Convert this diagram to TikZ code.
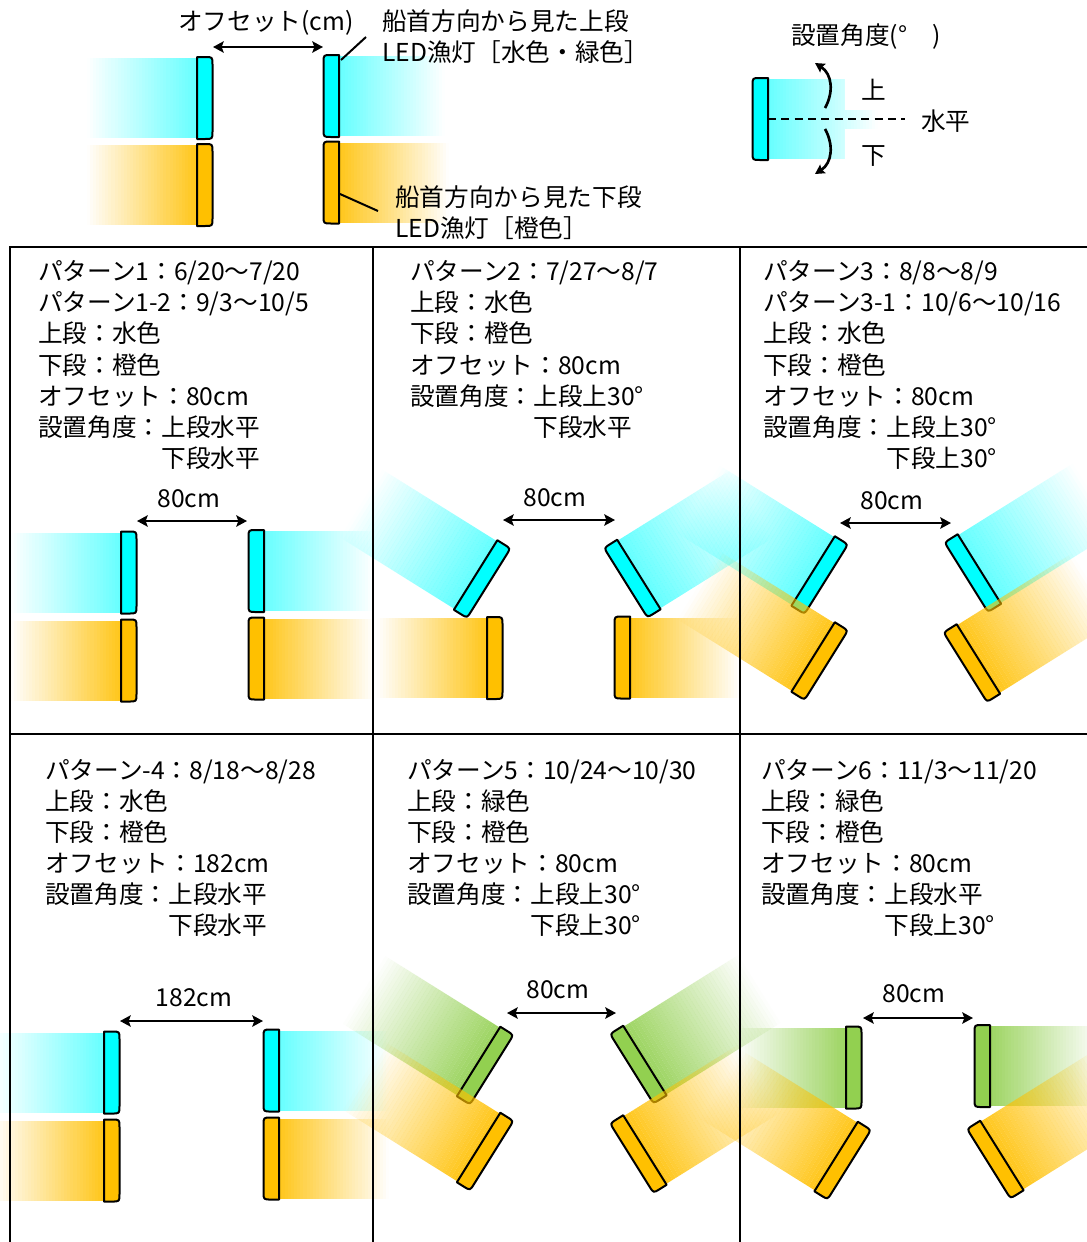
\documentclass[tikz,border=0pt]{standalone}
\usepackage{fontspec}
\setmainfont{Noto Sans CJK JP}
\usetikzlibrary{arrows.meta}

\definecolor{lampcyan}{HTML}{00FFFF}
\definecolor{lamporange}{HTML}{FFC000}
\definecolor{lampgreen}{HTML}{92D050}

\tikzset{
  txt/.style={anchor=base west, inner sep=0pt, font=\fontsize{18.5pt}{22pt}\selectfont},
  dimtxt/.style={anchor=base, inner sep=0pt, font=\fontsize{18.5pt}{22pt}\selectfont},
  lampedge/.style={line width=1.5pt, line join=round},
  dimarrow/.style={line width=2pt,
    {Stealth[length=8pt,width=8.5pt,inset=1.5pt]}-{Stealth[length=8pt,width=8.5pt,inset=1.5pt]}},
  frame/.style={line width=2.2pt},
  leader/.style={line width=1.5pt},
  tiltarrow/.style={line width=2pt, -{Stealth[length=7pt,width=7.5pt,inset=1pt]}},
  levelline/.style={line width=1.5pt, dash pattern=on 6pt off 4pt},
}

% Lamp with its light beam.
% #1,#2 centre of the emitting face, #3 rotation, #4 1 = beam to the left, -1 = to the right,
% #5 colour, #6 opacity of the beam at the face, #7 beam length
\newcommand\lamp[7]{%
  \begin{scope}[shift={(#1,#2)}, rotate=#3, xscale=#4]
    \foreach \k in {0,...,35}{%
      \pgfmathsetmacro\beamop{#6*(1-(\k+0.5)/36)}%
      \fill[#5, opacity=\beamop] ({-#7*\k/36},-40) rectangle ({-#7*(\k+1)/36},40);
    }
    \draw[lampedge, fill=#5] (0,-41) -- (8,-41) .. controls (15.5,-41) .. (15.5,-33.5)
      -- (15.5,33.5) .. controls (15.5,41) .. (8,41) -- (0,41) -- cycle;
  \end{scope}}

% One block of panel text, one node per line
\newcommand\paneltext[5]{%
  \foreach \t [count=\i] in {#5} {%
    \node[txt] (#1-\i) at ({#2},{#3+#4*(\i-1)}) {\t};
  }}

\newcommand\cyanop{0.6}
\newcommand\orangeop{0.9}
\newcommand\greenop{0.9}

\begin{document}
\begin{tikzpicture}[x=0.75pt,y=-0.75pt]
\useasboundingbox (0,0) rectangle (1087,1242);
\clip (0,0) rectangle (1087,1242);
\fill[white] (0,0) rectangle (1087,1242);

% ---------- key: offset ----------
\lamp{197}{98}{0}{1}{lampcyan}{\cyanop}{110}
\lamp{339}{96}{0}{-1}{lampcyan}{\cyanop}{106}
\lamp{197}{185}{0}{1}{lamporange}{\orangeop}{110}
\lamp{339}{182.5}{0}{-1}{lamporange}{\orangeop}{110}

\node[txt] (offkey) at (178,31) {オフセット(cm)};
\coordinate (offL) at (213,47);
\coordinate (offR) at (323,47);
\draw[dimarrow] (offL) -- (offR);

\node[txt] (upkey1) at (382,31) {船首方向から見た上段};
\node[txt] (upkey2) at (382,61) {LED漁灯［水色・緑色］};
\node[txt] (lowkey1) at (395,206) {船首方向から見た下段};
\node[txt] (lowkey2) at (395,237) {LED漁灯［橙色］};
\coordinate (ldA) at (341,60);
\coordinate (ldB) at (366,37);
\coordinate (ldC) at (340,194);
\coordinate (ldD) at (378,211);
\draw[leader] (ldA) -- (ldB);
\draw[leader] (ldC) -- (ldD);

% ---------- key: installation angle ----------
\lamp{768}{119}{0}{-1}{lampcyan}{\cyanop}{110}
\fill[white] (845,76) rectangle (900,110);
\fill[white] (845,129) rectangle (900,163);
\coordinate (lvA) at (768,119);
\coordinate (lvB) at (905,119);
\draw[levelline] (lvA) -- (lvB);
\coordinate (upS) at (825,108);
\coordinate (upE) at (815,63);
\coordinate (dnS) at (825,129);
\coordinate (dnE) at (815,174);
\draw[tiltarrow] (upS) .. controls (834,92) and (832,74) .. (upE);
\draw[tiltarrow] (dnS) .. controls (834,145) and (832,163) .. (dnE);
\node[txt] (angkey) at (791,44) {設置角度(°　)};
\node[txt] (angup) at (861,99) {上};
\node[txt] (angdn) at (861,164) {下};
\node[txt] (anglevel) at (921,130) {水平};

% ---------- pattern 1 ----------
\lamp{121}{572.5}{0}{1}{lampcyan}{\cyanop}{110}
\lamp{264}{571}{0}{-1}{lampcyan}{\cyanop}{110}
\lamp{121}{660.5}{0}{1}{lamporange}{\orangeop}{110}
\lamp{264}{658.5}{0}{-1}{lamporange}{\orangeop}{110}

% ---------- pattern 2 ----------
\lamp{475.6}{575}{-32}{1}{lampcyan}{\cyanop}{135}
\lamp{638.9}{574.5}{32}{-1}{lampcyan}{\cyanop}{135}
\lamp{487}{658}{0}{1}{lamporange}{\orangeop}{110}
\lamp{630}{657.5}{0}{-1}{lamporange}{\orangeop}{110}

% ---------- pattern 3 ----------
\lamp{813.1}{571}{-32}{1}{lampcyan}{\cyanop}{135}
\lamp{979.4}{569}{32}{-1}{lampcyan}{\cyanop}{135}
\lamp{813.1}{657}{-32}{1}{lamporange}{\orangeop}{135}
\lamp{978.4}{659}{32}{-1}{lamporange}{\orangeop}{135}

% ---------- pattern 4 ----------
\lamp{104}{1072.5}{0}{1}{lampcyan}{\cyanop}{110}
\lamp{279}{1070.5}{0}{-1}{lampcyan}{\cyanop}{110}
\lamp{104}{1160.5}{0}{1}{lamporange}{\orangeop}{110}
\lamp{279}{1158.5}{0}{-1}{lamporange}{\orangeop}{110}

% ---------- pattern 5 ----------
\lamp{478.6}{1061.5}{-32}{1}{lampgreen}{\greenop}{135}
\lamp{644.9}{1060.5}{32}{-1}{lampgreen}{\greenop}{135}
\lamp{478.6}{1147.5}{-32}{1}{lamporange}{\orangeop}{135}
\lamp{644.9}{1150}{32}{-1}{lamporange}{\orangeop}{135}

% ---------- pattern 6 ----------
\lamp{846}{1067.5}{0}{1}{lampgreen}{\greenop}{110}
\lamp{990}{1066}{0}{-1}{lampgreen}{\greenop}{110}
\lamp{836.1}{1156.5}{-32}{1}{lamporange}{\orangeop}{135}
\lamp{1001.9}{1155.5}{32}{-1}{lamporange}{\orangeop}{135}

% ---------- table frame ----------
\draw[frame] (10,1242) -- (10,247) -- (1087,247);
\draw[frame] (10,734) -- (1087,734);
\draw[frame] (373,247) -- (373,1242);
\draw[frame] (740,247) -- (740,1242);

% ---------- panel texts ----------
\paneltext{pa}{38}{280.5}{31.2}{{パターン1：6/20～7/20},{パターン1-2：9/3～10/5},{上段：水色},{下段：橙色},{オフセット：80cm},{設置角度：上段水平},{\phantom{設置角度：}下段水平}}
\paneltext{pb}{410}{280.5}{31.2}{{パターン2：7/27～8/7},{上段：水色},{下段：橙色},{オフセット：80cm},{設置角度：上段上30°},{\phantom{設置角度：}下段水平}}
\paneltext{pc}{763}{280.5}{31.2}{{パターン3：8/8～8/9},{パターン3-1：10/6～10/16},{上段：水色},{下段：橙色},{オフセット：80cm},{設置角度：上段上30°},{\phantom{設置角度：}下段上30°}}
\paneltext{pd}{45}{779.5}{31}{{パターン-4：8/18～8/28},{上段：水色},{下段：橙色},{オフセット：182cm},{設置角度：上段水平},{\phantom{設置角度：}下段水平}}
\paneltext{pe}{407}{779.5}{31}{{パターン5：10/24～10/30},{上段：緑色},{下段：橙色},{オフセット：80cm},{設置角度：上段上30°},{\phantom{設置角度：}下段上30°}}
\paneltext{pf}{761}{779.5}{31}{{パターン6：11/3～11/20},{上段：緑色},{下段：橙色},{オフセット：80cm},{設置角度：上段水平},{\phantom{設置角度：}下段上30°}}

% ---------- spacing dimensions ----------
\node[dimtxt] (da) at (189,507) {80cm};
\coordinate (daL) at (137,521); \coordinate (daR) at (247,521);
\draw[dimarrow] (daL) -- (daR);
\node[dimtxt] (db) at (555,506) {80cm};
\coordinate (dbL) at (503,520); \coordinate (dbR) at (615,520);
\draw[dimarrow] (dbL) -- (dbR);
\node[dimtxt] (dc) at (892,509) {80cm};
\coordinate (dcL) at (840,523); \coordinate (dcR) at (951,523);
\draw[dimarrow] (dcL) -- (dcR);
\node[dimtxt] (dd) at (194,1006) {182cm};
\coordinate (ddL) at (120,1021); \coordinate (ddR) at (263,1021);
\draw[dimarrow] (ddL) -- (ddR);
\node[dimtxt] (de) at (558,998) {80cm};
\coordinate (deL) at (507,1013); \coordinate (deR) at (616,1013);
\draw[dimarrow] (deL) -- (deR);
\node[dimtxt] (df) at (914,1002) {80cm};
\coordinate (dfL) at (863,1018); \coordinate (dfR) at (973,1018);
\draw[dimarrow] (dfL) -- (dfR);
\end{tikzpicture}
\end{document}
